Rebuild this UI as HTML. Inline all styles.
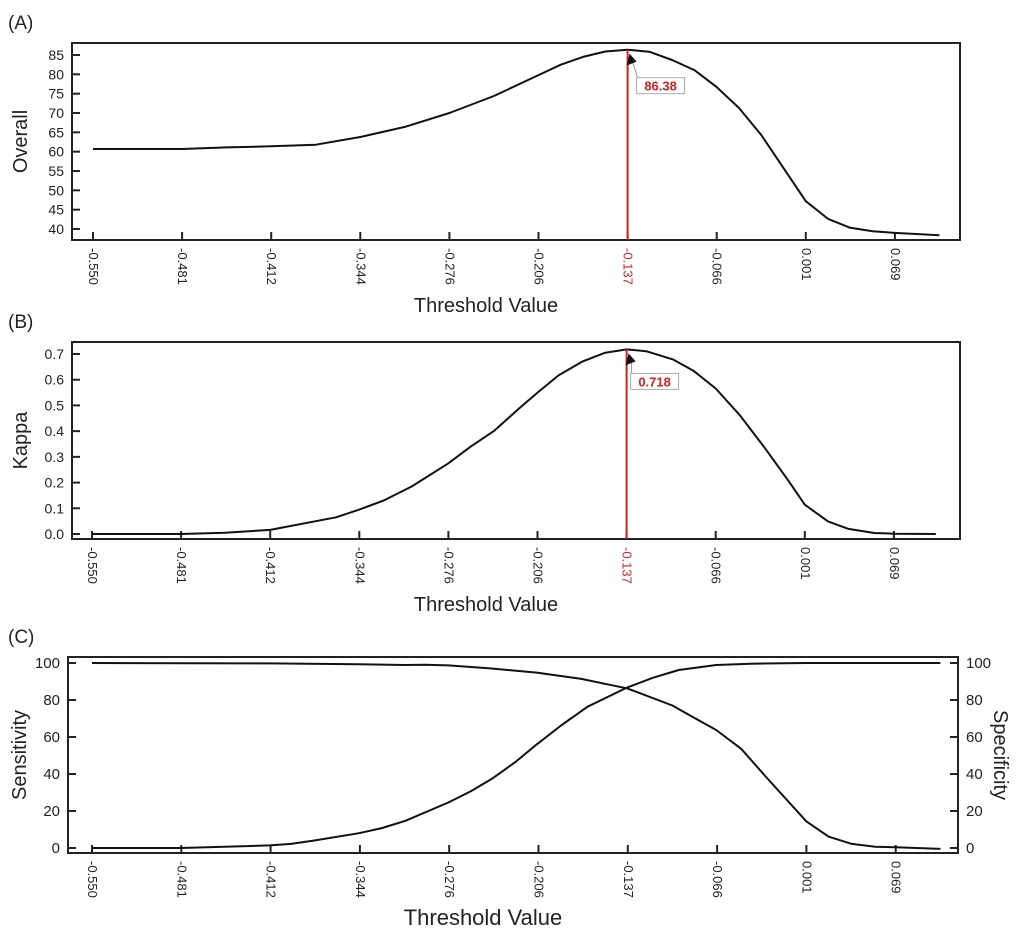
<!DOCTYPE html>
<html><head><meta charset="utf-8"><style>
html,body{margin:0;padding:0;background:#fff;}
svg{display:block;font-family:"Liberation Sans",Arial,sans-serif;}
.nar{font-family:"Liberation Sans Narrow","Liberation Sans",sans-serif;}
</style></head><body>
<svg id="chart" width="1024" height="938" viewBox="0 0 1024 938" xmlns="http://www.w3.org/2000/svg"></svg>
<script>
const xTickLabels = ["-0.550","-0.481","-0.412","-0.344","-0.276","-0.206","-0.137","-0.066","0.001","0.069"];
const highlightIndex = 6;
// Panel A
const overallX = [0,0.5,1,1.5,2,2.5,3,3.5,4,4.5,5,5.25,5.5,5.75,6,6.25,6.5,6.75,7,7.25,7.5,8,8.25,8.5,8.75,9,9.5];
const overallY = [60.7,60.7,60.7,61.1,61.4,61.8,63.8,66.4,70.0,74.4,79.8,82.5,84.5,85.9,86.38,85.8,83.7,81.1,76.7,71.3,64.3,47.2,42.6,40.3,39.4,39.0,38.4];
const overallTicks = [40,45,50,55,60,65,70,75,80,85];
const overallPeak = "86.38";
// Panel B
const kappaX = [0,1,1.49,2,2.74,3,3.27,3.59,4,4.25,4.51,4.78,5,5.24,5.5,5.76,6,6.22,6.52,6.75,7,7.27,7.54,7.8,8,8.26,8.49,8.78,9,9.47];
const kappaY = [0,0,0.005,0.016,0.065,0.095,0.13,0.185,0.275,0.34,0.40,0.484,0.55,0.618,0.67,0.705,0.718,0.711,0.679,0.635,0.566,0.462,0.34,0.215,0.114,0.049,0.02,0.004,0.001,0];
const kappaTicks = [0,0.1,0.2,0.3,0.4,0.5,0.6,0.7];
const kappaTickLabels = ["0.0","0.1","0.2","0.3","0.4","0.5","0.6","0.7"];
const kappaPeak = "0.718";
// Panel C
const sensX = [0,0.99,1.24,1.99,2.23,2.48,2.99,3.25,3.51,3.99,4.24,4.49,4.75,4.98,5.26,5.55,5.99,6.28,6.57,6.99,7.38,8,9.5];
const sensY = [0,0,0.3,1.4,2.2,4,8,10.8,14.7,24.6,30.6,37.8,46.8,56,66.5,76.4,86.7,92,96.2,98.9,99.6,100,100];
const specX = [0,1.99,2.99,3.51,3.73,3.99,4.46,4.98,5.48,5.77,5.99,6.5,6.72,6.99,7.27,7.56,8,8.25,8.51,8.77,9,9.5];
const specY = [100,99.8,99.3,98.9,99.1,98.7,97.1,94.8,91.4,88.5,86.3,77,71,63.8,53.6,37.8,14.4,6.1,2.2,0.7,0.4,-0.5];
const pctTicks = [0,20,40,60,80,100];

const NS="http://www.w3.org/2000/svg";
const svg=document.getElementById('chart');
function mk(tag,attrs,parent){const e=document.createElementNS(NS,tag);for(const k in attrs)e.setAttribute(k,attrs[k]);(parent||svg).appendChild(e);return e;}

function panel(cfg){
  const g=mk('g',{});
  
  
  const sx=i=>cfg.x0+cfg.dx*i;
  const sy=v=>cfg.yBase+(v-cfg.vMin)*(cfg.yTop-cfg.yBase)/(cfg.vMax-cfg.vMin);
  const fr=mk('rect',{x:cfg.L,y:cfg.T,width:cfg.R-cfg.L,height:cfg.B-cfg.T,fill:'none',stroke:'#222','stroke-width':2},g);
  
  
  const pl=mk('text',{x:8,y:cfg.T-14,'font-size':19,fill:'#222'},g);pl.textContent=cfg.letter;
  
  
  cfg.yTicks.forEach((v,k)=>{
    const y=sy(v);
    mk('line',{x1:cfg.L,x2:cfg.L+8,y1:y,y2:y,stroke:'#222','stroke-width':2},g);
    const t=mk('text',{x:cfg.L-8,y:y+5,'font-size':cfg.yfs,'text-anchor':'end',fill:'#222',class:cfg.narrow?'nar':''},g);
    t.textContent=cfg.yLabels?cfg.yLabels[k]:v;
    
    
    if(cfg.right){
      mk('line',{x1:cfg.R-8,x2:cfg.R,y1:y,y2:y,stroke:'#222','stroke-width':2},g);
      const t2=mk('text',{x:cfg.R+8,y:y+5,'font-size':cfg.yfs,fill:'#222',class:'nar'},g);
      t2.textContent=v;
      
      
    }
  });
  xTickLabels.forEach((lab,i)=>{
    const x=sx(i);
    mk('line',{x1:x,x2:x,y1:cfg.B,y2:cfg.B-8,stroke:'#222','stroke-width':2},g);
    const red=(cfg.hl&&i===highlightIndex);
    const t=mk('text',{x:0,y:0,'font-size':13,fill:red?'#d42020':'#222',transform:`translate(${x-4},${cfg.B+8}) rotate(90)`},g);
    t.textContent=lab;
    
    
  });
  const xt=mk('text',{x:(cfg.L+cfg.R)/2-30,y:cfg.B+72,'font-size':cfg.narrow?22:20,'text-anchor':'middle',fill:'#222',class:cfg.narrow?'nar':''},g);
  xt.textContent='Threshold Value';
  
  
  const ym=(cfg.T+cfg.B)/2;
  const yt=mk('text',{x:0,y:0,'font-size':20,'text-anchor':'middle',fill:'#222',transform:`translate(${cfg.yTitleX},${ym}) rotate(-90)`},g);
  yt.textContent=cfg.yTitle;
  
  
  if(cfg.right){
    const rt=mk('text',{x:0,y:0,'font-size':20,'text-anchor':'middle',fill:'#222',transform:`translate(${cfg.R+36},${ym}) rotate(90)`},g);
    rt.textContent=cfg.rightTitle;
    
    
  }
  cfg.series.forEach(s=>{
    const d=s.xs.map((xv,k)=>(k?'L':'M')+sx(xv).toFixed(1)+','+sy(s.ys[k]).toFixed(1)).join(' ');
    const p=mk('path',{d:d,fill:'none',stroke:'#111','stroke-width':2,'stroke-linejoin':'round'},g);
    
    
  });
  if(cfg.peak){
    const px=sx(highlightIndex);
    const pyv=parseFloat(cfg.peak);
    const py=sy(pyv);
    const rl=mk('line',{x1:px,x2:px,y1:py,y2:cfg.B,stroke:'#d42020','stroke-width':2},g);
    
    
    const bx=px+cfg.boxDx, by=py+cfg.boxDy;
    mk('line',{x1:px+5,y1:py+12,x2:bx+1,y2:by,stroke:'#999','stroke-width':1},g);
    mk('polygon',{points:`${px+2},${py+4} ${px-1},${py+16} ${px+9},${py+12}`,fill:'#111'},g);
    const bw=cfg.peak.length*9+3;
    const br=mk('rect',{x:bx,y:by,width:bw,height:16,fill:'#fff',stroke:'#aaa','stroke-width':1},g);
    
    
    const bt=mk('text',{x:bx+bw/2,y:by+13,'font-size':13,'font-weight':'bold','text-anchor':'middle',fill:'#d42020'},g);
    bt.textContent=cfg.peak;
    
    
  }
}

panel({name:'panel-a-overall',letter:'(A)',L:72,R:960,T:43,B:240,x0:93,dx:89.1,
  vMin:40,vMax:85,yBase:229,yTop:55,yTicks:overallTicks,yfs:14,yTitle:'Overall',yTitleX:27,
  hl:true,peak:overallPeak,boxDx:9,boxDy:28,
  series:[{name:'overall-accuracy-line',xs:overallX,ys:overallY}]});
panel({name:'panel-b-kappa',letter:'(B)',L:72,R:960,T:342,B:539,x0:92,dx:89.1,
  vMin:0,vMax:0.7,yBase:534,yTop:354,yTicks:kappaTicks,yLabels:kappaTickLabels,yfs:14,yTitle:'Kappa',yTitleX:27,
  hl:true,peak:kappaPeak,boxDx:4,boxDy:24,
  series:[{name:'kappa-line',xs:kappaX,ys:kappaY}]});
panel({name:'panel-c-sens-spec',letter:'(C)',L:68,R:958,T:657,B:853,x0:92,dx:89.3,
  vMin:0,vMax:100,yBase:848,yTop:663,yTicks:pctTicks,yfs:15,narrow:true,yTitle:'Sensitivity',yTitleX:26,
  right:true,rightTitle:'Specificity',hl:false,
  series:[{name:'sensitivity-line',xs:sensX,ys:sensY},{name:'specificity-line',xs:specX,ys:specY}]});
</script>
</body></html>
